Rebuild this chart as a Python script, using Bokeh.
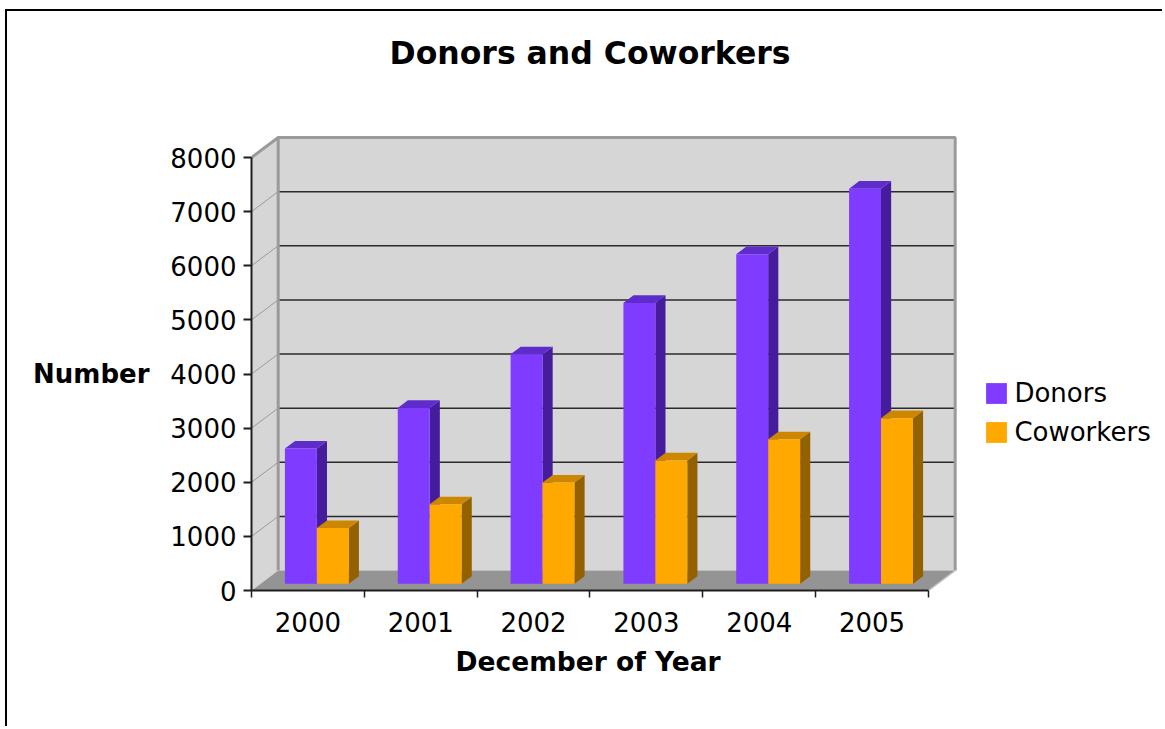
import numpy as np
from bokeh.plotting import figure
from bokeh.models import FixedTicker, Title, Legend, LegendItem, Range1d, LinearAxis
from bokeh.embed import file_html
from bokeh.resources import INLINE

# ---------------- data ----------------
categories = ["2000", "2001", "2002", "2003", "2004", "2005"]
donors = [2500, 3250, 4240, 5190, 6090, 7300]
coworkers = [1030, 1470, 1870, 2280, 2670, 3060]
y_ticks = [0, 1000, 2000, 3000, 4000, 5000, 6000, 7000, 8000]
y_max = 8000

# ---------------- layout / style constants ----------------
W, H = 1157, 717
FRAME_L, FRAME_T, FRAME_B = 244, 79, 579
PX_X = 112.83        # px per category
PX_Y = 0.054125      # px per value unit
x_end = (W - FRAME_L) / PX_X
y_end = (FRAME_B - FRAME_T) / PX_Y

DX = 26.7 / PX_X     # full depth in x units
DY = 20.0 / PX_Y     # full depth in y units
BAR_F = 0.335        # bar front plane (fraction of depth)
BAR_D = 0.38         # bar depth (fraction of depth)
BAR_W = 0.283        # bar width (fraction of category)

FONT = "DejaVu Sans"
C_DON = ("#7f3bff", "#451c9c", "#5f2ccc")   # front, side, top
C_COW = ("#ffa800", "#946100", "#cc8600")
WALL = "#d6d6d6"
FLOOR = "#949494"
EDGE = "#9a9a9a"
AXIS = "#1e1e1e"

n = len(categories)
idx = np.arange(n)

p = figure(width=W, height=H, x_range=Range1d(0, x_end), y_range=Range1d(0, y_end),
           output_backend="svg", toolbar_location=None,
           min_border_left=FRAME_L, min_border_right=0,
           min_border_top=FRAME_T, min_border_bottom=H - FRAME_B,
           title="Donors and Coworkers")
p.styles = {"margin-left": "5px", "margin-top": "9px",
            "border-left": "2px solid #000", "border-top": "2px solid #000"}
p.outline_line_color = None
p.background_fill_color = "white"
p.border_fill_color = "white"
p.xgrid.visible = False
p.ygrid.visible = False

p.title.align = "left"
p.title.offset = 138
p.title.standoff = 40
p.title.text_font = FONT
p.title.text_font_size = "31.5px"
p.title.text_font_style = "bold"
p.title.text_color = "#000"

# ---------------- walls & floor ----------------
p.patch([0, 0, DX, DX], [0, y_max, y_max + DY, DY], fill_color=WALL, line_color=None)
p.quad(left=[DX], right=[n + DX], bottom=[DY], top=[y_max + DY], fill_color=WALL, line_color=None)
p.patch([0, n, n + DX, DX], [0, 0, DY, DY], fill_color=FLOOR, line_color=None)

grid_vals = [v for v in y_ticks if 0 < v < y_max]
p.multi_line([[DX, n + DX] for v in grid_vals], [[v + DY, v + DY] for v in grid_vals],
             line_color="#2a2a2a", line_width=1.5)
p.multi_line([[0, DX] for v in grid_vals], [[v, v + DY] for v in grid_vals],
             line_color="#9a9a9a", line_width=1)
p.line([0, DX, n + DX, n + DX], [y_max, y_max + DY, y_max + DY, DY], line_color=EDGE, line_width=3)
p.line([DX, DX], [DY, y_max + DY], line_color=EDGE, line_width=3)
p.line([n, n + DX], [0, DY], line_color="#bdbdbd", line_width=1.5)

# ---------------- bars ----------------
ox, oy = BAR_F * DX, BAR_F * DY
ddx, ddy = BAR_D * DX, BAR_D * DY


def draw_bars(vals, left_rel, colors):
    vals = np.asarray(vals, dtype=float)
    l = idx + left_rel + ox
    r = l + BAR_W
    b = np.full(n, oy)
    t = oy + vals
    side_xs = [[r[i], r[i] + ddx, r[i] + ddx, r[i]] for i in range(n)]
    side_ys = [[b[i], b[i] + ddy, t[i] + ddy, t[i]] for i in range(n)]
    top_xs = [[l[i], r[i], r[i] + ddx, l[i] + ddx] for i in range(n)]
    top_ys = [[t[i], t[i], t[i] + ddy, t[i] + ddy] for i in range(n)]
    p.patches(side_xs, side_ys, fill_color=colors[1], line_color=None)
    p.patches(top_xs, top_ys, fill_color=colors[2], line_color=None)
    return p.quad(left=l, right=r, bottom=b, top=t, fill_color=colors[0], line_color=None)


r_don = draw_bars(donors, 0.5 - BAR_W, C_DON)
r_cow = draw_bars(coworkers, 0.5, C_COW)

# ---------------- axes ----------------
ya = p.yaxis[0]
ya.ticker = FixedTicker(ticks=y_ticks)
ya.bounds = (0, y_max)
ya.axis_line_color = AXIS
ya.axis_line_width = 2
ya.major_tick_out = 8
ya.major_tick_in = 0
ya.major_tick_line_color = AXIS
ya.major_tick_line_width = 2
ya.minor_tick_line_color = None
ya.major_label_standoff = 7
ya.major_label_text_font = FONT
ya.major_label_text_font_size = "26px"
ya.major_label_text_color = "#000"

# outer left axis carrying the horizontal axis title "Number" at mid height
y_title_pos = y_max / 2
ya2 = LinearAxis(ticker=FixedTicker(ticks=[y_title_pos]),
                 major_label_overrides={y_title_pos: "Number"},
                 axis_line_color=None, major_tick_line_color=None,
                 minor_tick_line_color=None, major_tick_out=0, major_tick_in=0,
                 major_label_standoff=18, major_label_text_font=FONT,
                 major_label_text_font_size="26px", major_label_text_font_style="bold",
                 major_label_text_color="#000")
p.add_layout(ya2, "left")

xa = p.xaxis[0]
xa.ticker = FixedTicker(ticks=[i + 0.5 for i in range(n)], minor_ticks=list(range(n + 1)))
xa.bounds = (0, n)
xa.major_label_overrides = {i + 0.5: c for i, c in enumerate(categories)}
xa.axis_line_color = AXIS
xa.axis_line_width = 2
xa.major_tick_line_color = None
xa.major_tick_out = 0
xa.major_tick_in = 0
xa.minor_tick_out = 7
xa.minor_tick_in = 0
xa.minor_tick_line_color = AXIS
xa.minor_tick_line_width = 1.5
xa.major_label_standoff = 14
xa.major_label_text_font = FONT
xa.major_label_text_font_size = "26px"
xa.major_label_text_color = "#000"

p.add_layout(Title(text="December of Year", align="left", offset=204, standoff=18,
                   text_font=FONT, text_font_size="26.5px", text_font_style="bold",
                   text_color="#000"), "below")

# ---------------- legend ----------------
legend = Legend(items=[LegendItem(label="Donors", renderers=[r_don]),
                       LegendItem(label="Coworkers", renderers=[r_cow])],
                location=(732.4, 142), orientation="vertical",
                border_line_color=None, background_fill_alpha=0,
                label_text_font=FONT, label_text_font_size="26px", label_text_color="#000",
                glyph_width=26, glyph_height=26, label_standoff=5,
                padding=0, margin=0, spacing=7, label_height=32)
p.add_layout(legend)

open("out.html", "w").write(file_html(p, INLINE))
